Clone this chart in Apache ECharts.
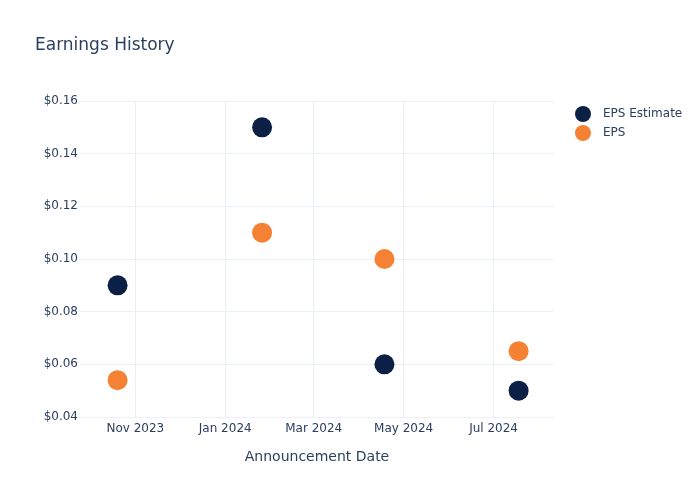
<!DOCTYPE html>
<html>
<head>
<meta charset="utf-8">
<script src="https://cdn.jsdelivr.net/npm/echarts@6/dist/echarts.min.js"></script>
<style>html,body{margin:0;padding:0;background:#fff}#c{width:700px;height:500px}</style>
</head>
<body>
<div id="c"></div>
<script>
const dates = ['2023-10-20', '2024-01-26', '2024-04-18', '2024-07-18'];
const epsEstimate = [0.09, 0.15, 0.06, 0.05];
const eps = [0.054, 0.11, 0.10, 0.065];
const xTicks = ['2023-11-01', '2024-01-01', '2024-03-01', '2024-05-01', '2024-07-01'];
const xRange = ['2023-09-24T12:00:00', '2024-08-11T00:00:00'];
const yTicks = [0.04, 0.06, 0.08, 0.10, 0.12, 0.14, 0.16];

const months = ['Jan','Feb','Mar','Apr','May','Jun','Jul','Aug','Sep','Oct','Nov','Dec'];
const ts = s => new Date(s.length === 10 ? s + 'T00:00:00' : s).getTime();
const FONT = 'DejaVu Sans';
const TXT = '#2a3f5f';
const GRID = '#ebf0f8';

const chart = echarts.init(document.getElementById('c'), null, {renderer: 'canvas'});
chart.setOption({
  animation: false,
  backgroundColor: '#fff',
  textStyle: {fontFamily: FONT},
  title: {
    text: 'Earnings History', left: 35, top: 37, padding: 0,
    textStyle: {fontFamily: FONT, fontSize: 17, fontWeight: 'normal', color: TXT}
  },
  legend: {
    left: 570, top: 101, orient: 'vertical', itemGap: 3,
    itemWidth: 16, itemHeight: 16, icon: 'circle',
    textStyle: {fontFamily: FONT, fontSize: 12, color: TXT, padding: [0,0,0,7]},
    data: ['EPS Estimate', 'EPS']
  },
  grid: {left: 80, right: 146, top: 101, bottom: 83, containLabel: false},
  xAxis: {
    type: 'value',
    min: ts(xRange[0]), max: ts(xRange[1]),
    name: 'Announcement Date', nameLocation: 'middle', nameGap: 33,
    nameTextStyle: {fontFamily: FONT, fontSize: 14, color: TXT},
    axisLine: {show: false},
    axisTick: {show: false, customValues: xTicks.map(ts)},
    splitLine: {show: true, lineStyle: {color: GRID, width: 1}},
    axisLabel: {
      customValues: xTicks.map(ts),
      fontFamily: FONT, fontSize: 12, color: TXT, margin: 6,
      formatter: v => { const d = new Date(v); return months[d.getMonth()] + ' ' + d.getFullYear(); }
    }
  },
  yAxis: {
    type: 'value', min: yTicks[0], max: yTicks[yTicks.length-1], interval: 0.02,
    axisLine: {show: false}, axisTick: {show: false},
    splitLine: {show: true, lineStyle: {color: GRID, width: 1}},
    axisLabel: {fontFamily: FONT, fontSize: 12, color: TXT, margin: 2,
      formatter: v => '$' + v.toFixed(2)}
  },
  series: [
    {
      name: 'EPS Estimate', type: 'scatter', symbolSize: 20,
      itemStyle: {color: '#0c1f44', opacity: 1},
      data: dates.map((d, i) => [ts(d), epsEstimate[i]])
    },
    {
      name: 'EPS', type: 'scatter', symbolSize: 20,
      itemStyle: {color: '#f58134', opacity: 1},
      data: dates.map((d, i) => [ts(d), eps[i]])
    }
  ]
});
</script>
</body>
</html>
